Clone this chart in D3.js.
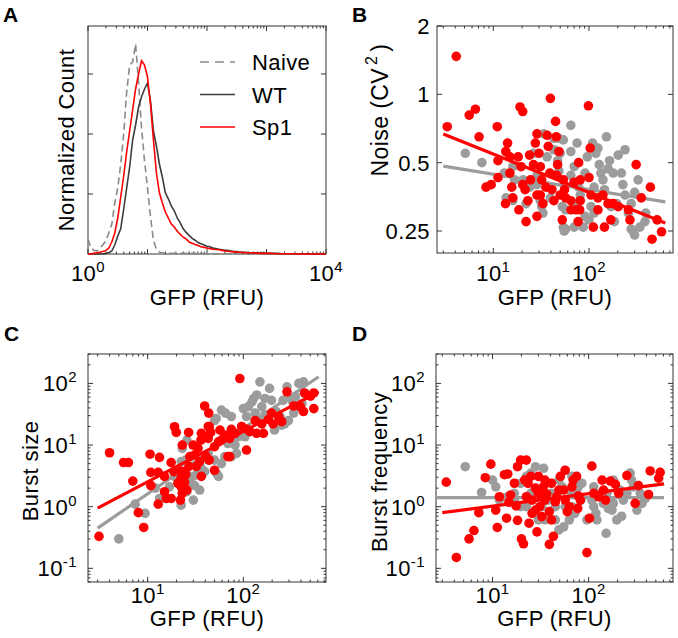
<!DOCTYPE html>
<html>
<head>
<meta charset="utf-8">
<script src="https://cdn.jsdelivr.net/npm/d3@7"></script>
<style>
  body { margin: 0; background: #fff; }
  text { font-family: "Liberation Sans", Arial, sans-serif; fill: #000; }
</style>
</head>
<body>
<script>

// ---------------- data ----------------

// panel A: histograms over log10(GFP), one value per bin (normalized count)
let histBins = d3.range(0, 4.001, 0.05);
let histNaive = [0.25, 0.1, 0.06, 0.05, 0.1, 0.15, 0.22, 0.35, 0.5, 0.85, 1.1, 1.5, 2.0, 2.7, 3.15, 3.2,
    3.5, 2.85, 2.1, 1.55, 1.1, 0.62, 0.23, 0.08, 0.03, 0.02, 0.01, 0.01, 0.01, 0.01, 0.01, 0.01,
    0.01, 0.01, 0.01, 0.01, 0.01, 0, 0, 0, 0, 0, 0, 0, 0, 0, 0, 0, 0, 0, 0, 0, 0, 0, 0, 0, 0, 0,
    0, 0, 0, 0, 0, 0, 0, 0, 0, 0, 0, 0, 0, 0, 0, 0, 0, 0, 0, 0, 0, 0, 0];
let histWT = [0, 0, 0, 0, 0, 0, 0.01, 0.02, 0.05, 0.15, 0.3, 0.42, 0.75, 1.1, 1.45, 1.9, 2.15, 2.45,
    2.62, 2.75, 2.85, 2.55, 2.05, 1.8, 1.5, 1.28, 1.02, 0.92, 0.8, 0.72, 0.6, 0.52, 0.42, 0.36, 0.31,
    0.26, 0.23, 0.19, 0.17, 0.15, 0.13, 0.12, 0.1, 0.09, 0.08, 0.07, 0.06, 0.06, 0.05, 0.04, 0.04,
    0.03, 0.03, 0.03, 0.02, 0.02, 0.02, 0.02, 0.015, 0.015, 0.01, 0.01, 0.01, 0.01, 0.01, 0.005,
    0.005, 0.005, 0.005, 0, 0, 0, 0, 0, 0, 0, 0, 0, 0, 0, 0];
let histSp1 = [0, 0, 0.01, 0.02, 0.03, 0.04, 0.06, 0.1, 0.2, 0.35, 0.6, 0.95, 1.3, 1.7, 2.05, 2.4, 2.75,
    3.0, 3.22, 3.15, 2.95, 2.5, 1.9, 1.35, 1.02, 0.85, 0.7, 0.6, 0.5, 0.45, 0.38, 0.33, 0.28, 0.25,
    0.2, 0.18, 0.16, 0.14, 0.12, 0.11, 0.1, 0.09, 0.08, 0.075, 0.07, 0.06, 0.05, 0.045, 0.04, 0.035,
    0.03, 0.03, 0.025, 0.02, 0.02, 0.02, 0.015, 0.015, 0.01, 0.01, 0.01, 0.01, 0.01, 0.005, 0.005,
    0.005, 0.005, 0.005, 0.005, 0.005, 0.005, 0, 0, 0, 0, 0, 0, 0, 0, 0, 0];
let histNames = ['Naive', 'WT', 'Sp1'];

// panel B: noise (CV^2) vs GFP, [GFP, CV2]
let noiseWT = [[5.1,0.55],[7.6,0.50],[16,0.48],[16.7,0.42],[16,0.34],[22,0.33],[26.3,0.55],[28.6,0.44],
    [28.6,0.40],[32,0.32],[33,0.30],[33.8,0.67],[43,0.64],[47,0.51],[48.5,0.46],[50,0.55],[54,0.63],
    [64.6,0.73],[52.6,0.32],[54,0.26],[57,0.255],[55,0.25],[64.6,0.44],[70,0.41],[73,0.33],[70,0.26],
    [81,0.36],[87,0.26],[91,0.29],[96,0.53],[105,0.32],[113,0.30],[118,0.55],[124,0.58],[128,0.49],
    [133,0.45],[140,0.42],[145,0.38],[152,0.65],[158,0.47],[164,0.51],[170,0.32],[184,0.275],[202,0.54],
    [179,0.45],[218,0.45],[226,0.40],[238,0.36],[258,0.30],[276,0.255],[288,0.25],[300,0.24],[340,0.26],
    [385,0.275],[392,0.30],[326,0.42],[300,0.37],[276,0.33],[238,0.57],[195,0.33],[113,0.39],[91,0.45],
    [78,0.39],[64.6,0.56],[43,0.57],[36.5,0.53],[39.5,0.35],[31,0.34],[24,0.39],[20.5,0.42],[13.6,0.35],
    [13,0.45],[75,0.61],[109,0.61],[100,0.28],[57,0.31],[48.5,0.64],[70,0.48]];
let noiseSp1 = [[4.1,1.47],[3.3,0.72],[5.6,0.81],[6.5,0.86],[7.1,0.65],[11,0.72],[11.2,0.43],[8.4,0.39],
    [9.5,0.40],[11.2,0.51],[13.4,0.33],[13.5,0.56],[14.9,0.45],[14.1,0.61],[14.9,0.53],[15.6,0.39],
    [16,0.35],[19,0.88],[20.3,0.84],[18.2,0.53],[19.5,0.48],[18.5,0.31],[20.3,0.40],[21.5,0.38],
    [22,0.275],[23.9,0.54],[24.5,0.42],[26.3,0.49],[28.6,0.67],[28.6,0.29],[28.6,0.36],[31,0.48],
    [32,0.42],[33,0.33],[36.5,0.66],[37.5,0.59],[39.5,0.96],[35.5,0.39],[39,0.45],[41,0.38],[44.7,0.76],
    [45.5,0.65],[48.5,0.56],[47,0.49],[46,0.44],[52.6,0.28],[54,0.42],[55.5,0.38],[57,0.35],[64.6,0.34],
    [70,0.41],[73,0.31],[77,0.275],[78,0.50],[81,0.34],[98.6,0.89],[103,0.58],[100,0.43],[105,0.36],
    [111,0.26],[124,0.31],[140,0.36],[145,0.26],[158,0.33],[169,0.28],[179,0.33],[202,0.32],[258,0.31],
    [268,0.28],[311,0.49],[352,0.35],[438,0.39],[456,0.23],[515,0.28],[573,0.248],[30,0.55],[31,0.36],
    [23,0.34],[27.5,0.61],[43,0.34],[50,0.36],[65,0.31],[80,0.31],[124,0.35],[81,0.42]];
let noiseFitWT = [[3,0.483],[627,0.336]];
let noiseFitSp1 = [[3,0.668],[627,0.271]];

// panel C: burst size vs GFP
let sizeWT = [[5.0,0.30],[7.4,1.1],[9.4,0.78],[12,2.0],[13.3,1.36],[15.3,1.36],[16.9,2.1],[19,3.1],
    [22.4,5.4],[23,8.8],[25.7,12],[25,5.7],[26.8,2.5],[29.8,3.1],[31,2.2],[33.6,3.7],[36.4,4.2],[43,7.3],
    [50,5.7],[52,27],[59,37],[53,3.4],[64,6.5],[65,33],[75,29],[82,10],[88,13.6],[96,20],[100,39],
    [108,29],[113,42],[123,50],[128,57],[138,65],[149,106],[156,42],[168,57],[168,31],[188,83],[197,53],
    [220,35],[252,21],[270,22],[286,88],[296,25],[336,33],[350,61],[380,100],[425,106],[445,68],[410,47],
    [322,53],[260,53],[212,17.5],[133,33],[85,7.3],[75,6.5],[59,5.0],[55,3.1],[39.4,3.7],[35,1.86],
    [30,1.28],[25.7,1.75],[22.4,1.06],[25,3.7],[104,13.6],[143,25],[43,5.7],[69,10.6],[242,29],[365,42],
    [50,25]];
let sizeSp1 = [[3.1,0.33],[4.0,7.5],[5.6,5.2],[6.3,5.2],[7.0,2.6],[8.0,0.8],[9.1,0.46],[10.6,7.1],
    [10.8,3.6],[10.8,2.2],[13.3,6.3],[12.9,3.6],[15,3.1],[15,1.75],[15.7,1.36],[12.9,1.1],[17.6,5.2],
    [19.1,19.8],[19.9,16],[18.8,3.7],[17.6,1.36],[22.4,3.8],[22.4,2.9],[22.4,2.1],[23,1.65],[22,1.28],
    [24.3,2.5],[25,3.3],[25.7,1.86],[23,10],[26.8,16],[29.8,10],[31,6.9],[33.6,8.8],[32.3,4.5],
    [36.4,15.5],[37.8,12.8],[39.4,43],[43.5,33],[43,20],[44,20],[45.6,16],[40.6,6.6],[44,5.7],[50,3.9],
    [50,9.4],[55,11.3],[59,12],[64,14.5],[72,12.8],[75,18],[69,6.5],[72,6.5],[82,15.5],[92,120],[96,20],
    [108,8.3],[110,18],[117,16.5],[133,25],[138,15.5],[156,22],[162,15.5],[183,26],[197,33],[205,22],
    [233,29],[252,24],[286,73],[336,43],[394,42],[425,35],[436,70],[503,62],[545,39],[545,70],[36.4,3.1],
    [27.6,6.5],[36,12],[57,17.5],[35,5.4],[27,4.5],[20.7,2.4],[23.8,1.86],[43,12.8]];
let sizeFitWT = [[3,0.45],[612,128]];
let sizeFitSp1 = [[3,0.95],[612,73]];

// panel D: burst frequency vs GFP
let freqWT = [[5.2,4.45],[7.7,1.7],[10,2.7],[10.8,2.1],[11.8,1.28],[14.4,1.45],[16.9,1.65],[19.6,2.4],
    [22.5,3.1],[25,3.5],[25.8,1.65],[28,4.45],[27,0.78],[30,0.61],[32.6,1.0],[38,1.28],[41,1.65],[49,2.7],
    [53,2.1],[49,0.42],[55,0.47],[63,0.61],[67,1.0],[72,0.78],[67,3.1],[78,2.1],[85,2.4],[96,0.61],
    [108,1.28],[113,1.0],[119,0.78],[122,0.61],[133,1.65],[143,1.13],[152,0.37],[160,0.94],[175,0.88],
    [181,1.13],[196,0.61],[212,1.86],[230,1.28],[250,1.65],[270,3.5],[292,2.1],[318,0.88],[360,1.13],
    [390,1.36],[345,1.65],[280,2.7],[181,2.7],[113,2.1],[67,1.65],[45,1.0],[35,0.61],[22.5,1.0],
    [19.6,1.0],[16.9,1.28],[34,4.2],[57,1.0],[83,1.28],[220,0.7],[155,1.65],[45,0.61],[25,1.65]];
let freqSp1 = [[3.3,2.5],[4.2,0.15],[5.7,0.30],[6.4,0.41],[7.2,0.8],[8.4,2.95],[9.6,4.9],[10.8,0.88],
    [11.2,0.46],[11.8,1.45],[13.3,3.3],[14,0.65],[14.8,1.18],[15.4,1.55],[16.9,2.4],[17.6,1.03],
    [18.2,4.45],[19.6,5.7],[20,0.30],[21,0.25],[22.5,5.7],[21.6,2.7],[23.4,2.4],[22.5,1.45],[24,0.54],
    [25,3.1],[25.8,1.28],[28,2.0],[28,0.88],[29,0.39],[30,3.1],[31,1.0],[32.6,0.69],[33.8,2.1],[35,1.28],
    [36.6,1.6],[39,0.83],[41,0.61],[43,0.33],[39,0.245],[45,1.2],[46.6,1.45],[50.8,3.1],[49,1.86],
    [55,1.86],[57,1.28],[60,0.83],[67,2.1],[69,2.7],[75,3.1],[78,1.5],[77,0.94],[96,0.18],[102,0.65],
    [108,4.55],[113,1.65],[127,1.45],[138,2.7],[143,1.86],[168,2.6],[190,2.3],[205,1.65],[250,3.2],
    [305,1.13],[330,2.2],[420,1.58],[437,3.8],[555,3.6],[535,2.9],[150,1.28],[57,3.9],[63,1.0],[30,1.65],
    [32.6,1.45],[18.2,0.6],[35,2.7],[25.8,0.78],[14.4,3.4],[41,2.4],[82,1.28]];
let freqFitWT = [[2.6,1.4],[610,1.4]];
let freqFitSp1 = [[3,0.8],[610,2.34]];

// tick labels
let histXLabels = [1, 10000];
let gfpXLabels = [10, 100];
let noiseYLabels = [0.25, 0.5, 1, 2];
let burstYLabels = [0.1, 1, 10, 100];

// ---------------- drawing ----------------

let gray = '#9c9c9c';
let red = '#ff0000';
let axisColor = '#333';
let fontSize = 22;
let supSize = 15;

let svg = d3.select('body').append('svg')
    .attr('width', 678)
    .attr('height', 638);

// major (1 x 10^n) and minor (2..9 x 10^n) ticks within a log domain
function logTicks(domain) {
    let major = [], minor = [];
    let lo = Math.floor(Math.log10(domain[0]));
    let hi = Math.ceil(Math.log10(domain[1]));
    for (let e = lo; e <= hi; e++) {
        for (let m = 1; m < 10; m++) {
            let v = m * Math.pow(10, e);
            if (v < domain[0] * 0.999 || v > domain[1] * 1.001) continue;
            if (m === 1) major.push(v); else minor.push(v);
        }
    }
    return {major: major, minor: minor};
}

// writes 10^n as text with a superscript
function powerLabel(sel, v) {
    sel.append('tspan').text('10');
    sel.append('tspan')
        .attr('dy', -9)
        .attr('font-size', supSize)
        .text(Math.round(Math.log10(v)));
}

// a text element with the common look
function addText(g, size) {
    return g.append('text')
        .attr('font-size', size || fontSize)
        .attr('letter-spacing', 0.4);
}

function drawPanel(p) {
    let g = svg.append('g')
        .attr('transform', 'translate(' + p.left + ',' + p.top + ')');
    let w = p.width, h = p.height;

    //box
    g.append('rect')
        .attr('width', w).attr('height', h)
        .attr('fill', 'none')
        .attr('stroke', axisColor)
        .attr('stroke-width', 1);

    // ticks point inward on all four sides
    let tg = g.append('g').attr('stroke', axisColor).attr('stroke-width', 1);
    p.xTicks.forEach(function (t) {
        let x = p.x(t.v);
        tg.append('line').attr('x1', x).attr('x2', x).attr('y1', h).attr('y2', h - t.len);
        tg.append('line').attr('x1', x).attr('x2', x).attr('y1', 0).attr('y2', t.len);
    });
    p.yTicks.forEach(function (t) {
        let y = p.y(t.v);
        tg.append('line').attr('x1', 0).attr('x2', t.len).attr('y1', y).attr('y2', y);
        tg.append('line').attr('x1', w).attr('x2', w - t.len).attr('y1', y).attr('y2', y);
    });

    // tick labels
    p.xLabels.forEach(function (v) {
        let t = addText(g)
            .attr('x', p.x(v))
            .attr('y', h + p.xLabelGap)
            .attr('text-anchor', 'middle');
        powerLabel(t, v);
    });
    p.yLabels.forEach(function (v) {
        let t = addText(g)
            .attr('x', -p.yLabelGap)
            .attr('y', p.y(v) + 8)
            .attr('text-anchor', 'end');
        if (p.yPower) powerLabel(t, v); else t.text(v);
    });

    // axis titles
    addText(g)
        .attr('x', w / 2)
        .attr('y', h + p.xTitleGap)
        .attr('text-anchor', 'middle')
        .text('GFP (RFU)');

    let yt = addText(g)
        .attr('transform', 'translate(' + p.yTitleX + ',' + p.yTitleY + ') rotate(-90)')
        .attr('text-anchor', 'middle')
        .attr('dominant-baseline', 'central');
    p.yTitle(yt);

    // panel letter
    svg.append('text')
        .attr('x', p.letterX)
        .attr('y', p.top - p.letterDy)
        .attr('font-size', 21)
        .attr('font-weight', 'bold')
        .text(p.letter);

    return g;
}

function tickList(domain) {
    let lt = logTicks(domain);
    return lt.major.map(function (v) { return {v: v, len: 5}; })
        .concat(lt.minor.map(function (v) { return {v: v, len: 2.5}; }));
}

// ---- panel A ----
let aX = d3.scaleLog().domain([1, 10000]).range([0, 238]);
let aY = d3.scaleLinear().domain([0, 3.8]).range([228, 0]);
let gA = drawPanel({
    left: 88, top: 26, width: 238, height: 228,
    x: aX, y: aY,
    xTicks: tickList([1, 10000]),
    yTicks: [1, 2, 3].map(function (v) { return {v: v, len: 5}; }),
    xLabels: histXLabels, xLabelGap: 27, xTitleGap: 51,
    yLabels: [], yLabelGap: 9,
    yTitleX: -22, yTitleY: 114,
    yTitle: function (t) { t.text('Normalized Count'); },
    letter: 'A', letterX: 3, letterDy: 4
});

let histLine = d3.line()
    .x(function (d, i) { return aX(Math.pow(10, histBins[i])); })
    .y(function (d) { return aY(d); });

gA.append('path').datum(histNaive)
    .attr('d', histLine)
    .attr('fill', 'none')
    .attr('stroke', '#8a8a8a')
    .attr('stroke-width', 1.6)
    .attr('stroke-dasharray', '7,4');
gA.append('path').datum(histWT)
    .attr('d', histLine)
    .attr('fill', 'none')
    .attr('stroke', '#3c3c3c')
    .attr('stroke-width', 1.6);
gA.append('path').datum(histSp1)
    .attr('d', histLine)
    .attr('fill', 'none')
    .attr('stroke', red)
    .attr('stroke-width', 1.6);

// legend
let legStyles = [
    {color: '#8a8a8a', dash: '9,6'},
    {color: '#3c3c3c', dash: null},
    {color: red, dash: null}
];
histNames.forEach(function (name, i) {
    let y = 36 + i * 32.5;
    gA.append('line')
        .attr('x1', 112).attr('x2', 147)
        .attr('y1', y).attr('y2', y)
        .attr('stroke', legStyles[i].color)
        .attr('stroke-width', 1.6)
        .attr('stroke-dasharray', legStyles[i].dash);
    addText(gA)
        .attr('x', 164).attr('y', y + 8)
        .text(name);
});

// ---- scatter panels ----
function scatterPanel(p, wt, sp1, fitWT, fitSp1) {
    let g = drawPanel(p);
    let line = d3.line()
        .x(function (d) { return p.x(d[0]); })
        .y(function (d) { return p.y(d[1]); });

    g.selectAll('circle.wt').data(wt).enter().append('circle')
        .attr('class', 'wt')
        .attr('cx', function (d) { return p.x(d[0]); })
        .attr('cy', function (d) { return p.y(d[1]); })
        .attr('r', 4.8)
        .attr('fill', gray);
    g.append('path').datum(fitWT)
        .attr('d', line)
        .attr('stroke', gray)
        .attr('stroke-width', 3.2)
        .attr('fill', 'none');
    g.append('path').datum(fitSp1)
        .attr('d', line)
        .attr('stroke', red)
        .attr('stroke-width', 3.2)
        .attr('fill', 'none');
    g.selectAll('circle.sp1').data(sp1).enter().append('circle')
        .attr('class', 'sp1')
        .attr('cx', function (d) { return p.x(d[0]); })
        .attr('cy', function (d) { return p.y(d[1]); })
        .attr('r', 4.8)
        .attr('fill', red);
}

// B
let bXdom = [2.58, 755];
let bX = d3.scaleLog().domain(bXdom).range([0, 236]);
let bY = d3.scaleLog().domain([0.2, 2]).range([227, 0]);
scatterPanel({
    left: 437, top: 26, width: 236, height: 227,
    x: bX, y: bY,
    xTicks: tickList(bXdom),
    yTicks: noiseYLabels.map(function (v) { return {v: v, len: 5}; }),
    xLabels: gfpXLabels, xLabelGap: 28, xTitleGap: 52,
    yLabels: noiseYLabels, yLabelGap: 7, yPower: false,
    yTitleX: -57, yTitleY: 84,
    yTitle: function (t) {
        t.attr('font-size', 23);
        t.append('tspan').text('Noise (CV');
        t.append('tspan').attr('dx', 3).attr('dy', -9).attr('font-size', 16).text('2');
        t.append('tspan').attr('dx', 4).attr('dy', 9).text(')');
    },
    letter: 'B', letterX: 352, letterDy: 4
}, noiseWT, noiseSp1, noiseFitWT, noiseFitSp1);

// C
let cXdom = [2.38, 731];
let burstDom = [0.06, 300];
let cX = d3.scaleLog().domain(cXdom).range([0, 238]);
let cY = d3.scaleLog().domain(burstDom).range([228, 0]);
scatterPanel({
    left: 88, top: 354, width: 238, height: 228,
    x: cX, y: cY,
    xTicks: tickList(cXdom),
    yTicks: tickList(burstDom),
    xLabels: gfpXLabels, xLabelGap: 21, xTitleGap: 44,
    yLabels: burstYLabels, yLabelGap: 11, yPower: true,
    yTitleX: -58, yTitleY: 117,
    yTitle: function (t) { t.text('Burst size'); },
    letter: 'C', letterX: 4, letterDy: 13
}, sizeWT, sizeSp1, sizeFitWT, sizeFitSp1);

// D
let dX = d3.scaleLog().domain(bXdom).range([0, 237]);
let dY = d3.scaleLog().domain(burstDom).range([228, 0]);
scatterPanel({
    left: 436, top: 354, width: 237, height: 228,
    x: dX, y: dY,
    xTicks: tickList(bXdom),
    yTicks: tickList(burstDom),
    xLabels: gfpXLabels, xLabelGap: 21, xTitleGap: 44,
    yLabels: burstYLabels, yLabelGap: 11, yPower: true,
    yTitleX: -57, yTitleY: 118,
    yTitle: function (t) { t.text('Burst frequency'); },
    letter: 'D', letterX: 352, letterDy: 13
}, freqWT, freqSp1, freqFitWT, freqFitSp1);

</script>
</body>
</html>
